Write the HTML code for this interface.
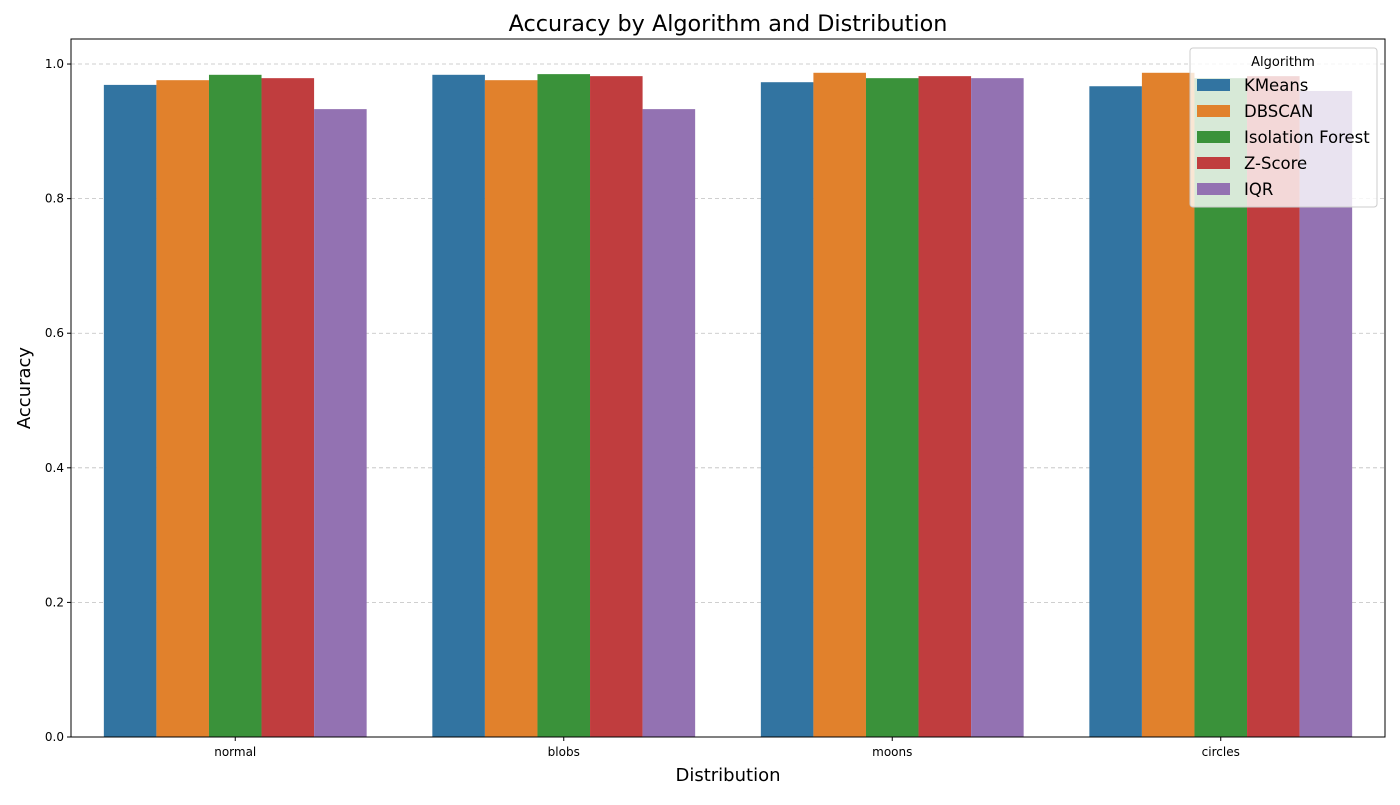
<!DOCTYPE html>
<html><head><meta charset="utf-8"><style>
body{margin:0;background:#fff;}
svg{font-family:"DejaVu Sans","Liberation Sans",sans-serif;}
</style></head><body>
<svg id="chart" width="1400" height="800"></svg>
<script>
const categories=["normal","blobs","moons","circles"];
const seriesNames=["KMeans","DBSCAN","Isolation Forest","Z-Score","IQR"];
const kmeans=[0.969,0.984,0.973,0.967];
const dbscan=[0.976,0.976,0.987,0.987];
const isoForest=[0.984,0.985,0.979,0.979];
const zscore=[0.979,0.982,0.982,0.982];
const iqr=[0.933,0.933,0.979,0.960];
const yTicks=[0,0.2,0.4,0.6,0.8,1.0];
const seriesValues=[kmeans,dbscan,isoForest,zscore,iqr];
const colors=["#3274a1","#e1812c","#3a923a","#c03d3e","#9372b2"];
const NS="http://www.w3.org/2000/svg";
const svg=document.getElementById('chart');
const L=71,R=1385,T=39,B=737;
const y=v=>B-v/1.0372*(B-T);
const bandW=(R-L)/categories.length;
const x=i=>L+bandW*(i+0.5);
function el(tag,attrs,parent){const e=document.createElementNS(NS,tag);for(const k in attrs)e.setAttribute(k,attrs[k]);(parent||svg).appendChild(e);return e;}
yTicks.forEach(t=>{
 const g=el('line',{x1:L,x2:R,y1:y(t),y2:y(t),stroke:'#b0b0b0','stroke-width':0.8,'stroke-dasharray':'4,3',opacity:0.8});
 
 
 el('line',{x1:L-4,x2:L,y1:y(t),y2:y(t),stroke:'#000'});
 const tx=el('text',{x:L-7,y:y(t)+4,'text-anchor':'end','font-size':12});
 tx.textContent=t.toFixed(1);
 
 
});
const barW=bandW*0.8/seriesNames.length;
seriesValues.forEach((vals,s)=>{
 vals.forEach((v,i)=>{
  const bx=x(i)-bandW*0.4+s*barW;
  const r=el('rect',{x:bx,y:y(v),width:barW,height:B-y(v),fill:colors[s]});
  
  
 });
});
categories.forEach((c,i)=>{
 el('line',{x1:x(i),x2:x(i),y1:B,y2:B+4,stroke:'#000'});
 const tx=el('text',{x:x(i),y:B+19,'text-anchor':'middle','font-size':12});
 tx.textContent=c;
 
 
});
const frame=el('rect',{x:L,y:T,width:R-L,height:B-T,fill:'none',stroke:'#000','stroke-width':1});


let t=el('text',{x:728,y:31,'text-anchor':'middle','font-size':22.3});t.textContent='Accuracy by Algorithm and Distribution';


t=el('text',{x:728,y:781,'text-anchor':'middle','font-size':18});t.textContent='Distribution';


t=el('text',{x:30,y:388,'text-anchor':'middle','font-size':18,transform:'rotate(-90 30 388)'});t.textContent='Accuracy';


const lg=el('g',{});


el('rect',{x:1190,y:48,width:187,height:159,rx:3,fill:'#fff','fill-opacity':0.8,stroke:'#cccccc'},lg);
t=el('text',{x:1283,y:66,'text-anchor':'middle','font-size':13},lg);t.textContent='Algorithm';
seriesNames.forEach((n,s)=>{
 const ey=85+s*26;
 const e=el('g',{},lg);
 
 
 el('rect',{x:1197,y:ey-6,width:33,height:12,fill:colors[s]},e);
 const tt=el('text',{x:1244,y:ey+6,'font-size':16.5},e);tt.textContent=n;
});
</script>
</body></html>
